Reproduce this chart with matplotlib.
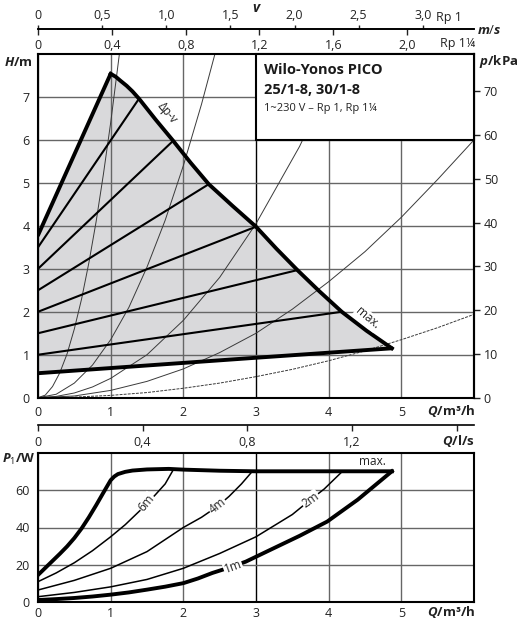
import matplotlib
matplotlib.use('Agg')
import matplotlib.pyplot as plt
from matplotlib.patches import Rectangle

FONT = 'Open Sans'
plt.rcParams['font.family'] = [FONT, 'DejaVu Sans']
plt.rcParams['mathtext.fontset'] = 'custom'
plt.rcParams['mathtext.rm'] = FONT
plt.rcParams['mathtext.it'] = FONT + ':italic:bold'
plt.rcParams['mathtext.bf'] = FONT + ':bold'

# ---------------- data: upper chart (Q in m3/h, H in m) ----------------
dpv_q = [0.0, 1.0]
dpv_h = [3.78, 7.54]
max_q = [1.0, 1.07, 1.14, 1.22, 1.30, 1.39, 1.62, 1.86, 2.10, 2.35, 2.68, 3.00, 3.28, 3.57, 3.87, 4.18, 4.52, 4.87]
max_h = [7.54, 7.47, 7.37, 7.26, 7.13, 6.96, 6.47, 5.98, 5.47, 4.97, 4.46, 3.98, 3.47, 2.97, 2.48, 2.00, 1.56, 1.15]
min_q = [0.0, 1.0, 2.0, 3.0, 4.87]
min_h = [0.57, 0.69, 0.81, 0.93, 1.15]

speed_h0 = [1.0, 1.5, 2.0, 2.5, 3.0, 3.5]
speed_q_end = [4.18, 3.57, 3.00, 2.35, 1.86, 1.39]
speed_h_end = [2.00, 2.97, 3.98, 4.97, 5.98, 6.96]

sys1_q = [0.0, 0.1, 0.2, 0.3, 0.4, 0.5, 0.6, 0.7, 0.8, 0.9, 1.0, 1.12]
sys1_h = [0.0, 0.06, 0.26, 0.58, 1.02, 1.6, 2.3, 3.14, 4.1, 5.2, 6.4, 8.0]
sys2_q = [0.0, 0.25, 0.5, 0.75, 1.0, 1.25, 1.5, 1.75, 2.0, 2.25, 2.43]
sys2_h = [0.0, 0.08, 0.34, 0.76, 1.35, 2.1, 3.04, 4.13, 5.4, 6.83, 7.97]
sys3_q = [0.0, 0.25, 0.5, 0.75, 1.0, 1.5, 2.0, 2.5, 3.0, 3.6, 4.2]
sys3_h = [0.0, 0.03, 0.11, 0.25, 0.45, 1.0, 1.8, 2.8, 4.05, 5.85, 8.0]
sys4_q = [0.0, 0.5, 1.0, 1.5, 2.0, 2.5, 3.0, 3.5, 4.0, 4.5, 5.0, 5.5, 6.0]
sys4_h = [0.0, 0.04, 0.17, 0.38, 0.67, 1.05, 1.5, 2.06, 2.7, 3.4, 4.2, 5.08, 6.0]
sys5_q = [0.0, 0.5, 1.0, 1.5, 2.0, 2.5, 3.0, 3.5, 4.0, 4.5, 5.0, 5.5, 6.0]
sys5_h = [0.0, 0.014, 0.054, 0.12, 0.22, 0.34, 0.49, 0.66, 0.86, 1.09, 1.35, 1.63, 1.94]

grid_q = [0, 1, 2, 3, 4, 5]
grid_h = [0, 1, 2, 3, 4, 5, 6, 7]
p_ticks = [0, 10, 20, 30, 40, 50, 60, 70]
rp1_v = [0, 0.5, 1.0, 1.5, 2.0, 2.5, 3.0]
rp1_lab = ['0', '0,5', '1,0', '1,5', '2,0', '2,5', '3,0']
rp114_v = [0, 0.4, 0.8, 1.2, 1.6, 2.0]
rp114_lab = ['0', '0,4', '0,8', '1,2', '1,6', '2,0']

# ---------------- data: lower chart (Q in m3/h, P1 in W) ----------------
pmax_q = [0.0, 0.1, 0.2, 0.3, 0.4, 0.5, 0.6, 0.7, 0.8, 0.9, 1.0, 1.05, 1.1, 1.2, 1.3, 1.5, 1.8, 2.0, 2.5, 3.0, 3.5, 4.0, 4.5, 4.87]
pmax_p = [14.4, 18.2, 22.0, 25.8, 29.8, 34.3, 39.5, 45.5, 52.0, 58.8, 65.5, 67.5, 68.8, 70.0, 70.7, 71.3, 71.6, 71.2, 70.6, 70.3, 70.3, 70.3, 70.3, 70.3]
p6_q = [0.0, 0.25, 0.5, 0.75, 1.0, 1.2, 1.4, 1.6, 1.75, 1.86]
p6_p = [10.8, 15.5, 21.0, 27.5, 35.0, 41.5, 49.0, 57.0, 63.5, 71.0]
p4_q = [0.0, 0.5, 1.0, 1.5, 2.0, 2.25, 2.47, 2.63, 2.8, 2.95]
p4_p = [6.3, 11.5, 18.0, 27.0, 40.0, 45.5, 51.4, 56.8, 63.5, 70.3]
p2_q = [0.0, 0.5, 1.0, 1.5, 2.0, 2.5, 3.0, 3.5, 3.75, 3.94, 4.19]
p2_p = [2.7, 5.0, 8.0, 12.0, 18.0, 26.0, 35.0, 47.0, 55.0, 60.8, 70.3]
p1_q = [0.0, 0.25, 0.5, 0.75, 1.0, 1.25, 1.5, 1.75, 2.0, 2.2, 2.4, 2.68, 2.86, 3.2, 3.6, 3.98, 4.4, 4.87]
p1_p = [0.9, 1.4, 2.0, 2.8, 3.8, 5.0, 6.5, 8.1, 10.0, 12.5, 15.5, 19.0, 21.6, 28.0, 35.5, 43.2, 55.0, 70.3]
grid_p = [0, 20, 40, 60]
ls_ticks = [0, 0.4, 0.8, 1.2, 1.6]
ls_lab = ['0', '0,4', '0,8', '1,2', '']

W, HP = 521, 629
def fx(px):
    return px / W
def fy(py):
    return 1 - py / HP

GRID = '#666666'
FILL = '#d9d9db'
TXT = '#222222'
FS = 9

fig = plt.figure(figsize=(5.21, 6.29), dpi=100)

# ================= upper chart =================
ax = fig.add_axes([fx(38), fy(397.7), fx(474) - fx(38), fy(54) - fy(397.7)])
ax.set_xlim(0, 6)
ax.set_ylim(0, 8)
for s in ax.spines.values():
    s.set_linewidth(1.5)
    s.set_color('black')
ax.set_xticks(grid_q)
ax.set_yticks(grid_h)
ax.tick_params(axis='both', length=0, labelsize=FS, colors=TXT)
ax.tick_params(axis='x', pad=6)
ax.tick_params(axis='y', pad=6)
ax.grid(True, color=GRID, lw=1.0)
ax.get_xgridlines()[3].set_color('black')

poly_q = dpv_q + max_q[1:] + min_q[::-1][1:]
poly_h = dpv_h + max_h[1:] + min_h[::-1][1:]
ax.fill(poly_q, poly_h, color=FILL, zorder=0.5, lw=0)

for sq, sh, ls in [(sys1_q, sys1_h, '-'), (sys2_q, sys2_h, '-'), (sys3_q, sys3_h, '-'),
                   (sys4_q, sys4_h, '-'), (sys5_q, sys5_h, (0, (3, 1.2)))]:
    ax.plot(sq, sh, color='#3a3a3a', lw=0.7, ls=ls, zorder=2)

for h0, qe, he in zip(speed_h0, speed_q_end, speed_h_end):
    ax.plot([0, qe], [h0, he], color='black', lw=1.5, zorder=3)

ax.plot(dpv_q, dpv_h, color='black', lw=2.8, zorder=4, solid_capstyle='round')
ax.plot(max_q, max_h, color='black', lw=2.8, zorder=4, solid_joinstyle='round')
ax.plot(min_q, min_h, color='black', lw=2.8, zorder=4, solid_capstyle='round')

ax.text(1.78, 6.64, 'Δp-v', rotation=-50, ha='center', va='center', fontsize=8.5,
        color=TXT, zorder=6)
ax.text(4.53, 1.85, 'max.', rotation=-40, ha='center', va='center', fontsize=8.5,
        color=TXT, zorder=6, bbox=dict(fc='white', ec='none', pad=0.6))

ax.add_patch(Rectangle((3, 6), 3, 2, fc='white', ec='black', lw=1.5, zorder=7, clip_on=False))
ax.text(3.11, 7.53, 'Wilo-Yonos PICO', fontsize=10.5, fontweight='bold', va='baseline',
        color='#1a1a1a', zorder=8)
ax.text(3.11, 7.06, '25/1-8, 30/1-8', fontsize=10.5, fontweight='bold', va='baseline',
        color='#1a1a1a', zorder=8)
ax.text(3.11, 6.67, '1~230 V – Rp 1, Rp 1¼', fontsize=8, va='baseline',
        color=TXT, zorder=8)

pax = ax.secondary_yaxis('right', functions=(lambda h: h * 9.81, lambda p: p / 9.81))
pax.set_yticks(p_ticks)
pax.tick_params(length=4, width=1, pad=3, labelsize=FS, colors=TXT)
pax.spines['right'].set_linewidth(1.5)

vax1 = ax.secondary_xaxis(1.0727, functions=(lambda q: q / 1.765, lambda v: v * 1.765))
vax1.set_xticks(rp1_v, labels=rp1_lab)
vax1.tick_params(direction='out', length=3, width=1, pad=2, labelsize=FS, colors=TXT)
vax1.spines['top'].set_linewidth(1.2)

vax2 = ax.secondary_xaxis(1.0727, functions=(lambda q: q / 2.54, lambda v: v * 2.54))
vax2.set_alignment('bottom')
vax2.set_xticks(rp114_v, labels=rp114_lab)
vax2.tick_params(direction='out', length=4, width=1, pad=3, labelsize=FS, colors=TXT)
vax2.spines['bottom'].set_linewidth(1.2)

fig.text(fx(257), fy(0.5), '$v$', ha='center', va='top', fontsize=10, color=TXT)
fig.text(fx(436), fy(17), 'Rp 1', ha='left', va='center', fontsize=FS, color=TXT)
fig.text(fx(475), fy(43.5), 'Rp 1¼', ha='right', va='center', fontsize=FS, color=TXT)
fig.text(fx(477), fy(30), '$m/s$', ha='left', va='center', fontsize=9.5, color=TXT)
fig.text(fx(33), fy(62), '$H$/m', ha='right', va='center', fontsize=9.5, fontweight='bold', color=TXT)
fig.text(fx(479), fy(62), '$p$/kPa', ha='left', va='center', fontsize=9.5, fontweight='bold', color=TXT)
fig.text(fx(475), fy(411), '$Q$/m³/h', ha='right', va='center', fontsize=9.5, fontweight='bold', color=TXT)

# ================= lower chart =================
bx = fig.add_axes([fx(38), fy(601.7), fx(474) - fx(38), fy(453.3) - fy(601.7)])
bx.set_xlim(0, 6)
bx.set_ylim(0, 80)
for s in bx.spines.values():
    s.set_linewidth(1.5)
    s.set_color('black')
bx.set_xticks(grid_q)
bx.set_yticks(grid_p)
bx.tick_params(axis='both', length=0, labelsize=FS, colors=TXT)
bx.tick_params(axis='x', pad=4)
bx.tick_params(axis='y', pad=6)
bx.grid(True, color=GRID, lw=1.0)
bx.get_xgridlines()[3].set_color('black')

bx.plot(p6_q, p6_p, color='black', lw=1.1, zorder=3)
bx.plot(p4_q, p4_p, color='black', lw=1.1, zorder=3)
bx.plot(p2_q, p2_p, color='black', lw=1.1, zorder=3)
bx.plot(p1_q, p1_p, color='black', lw=2.8, zorder=4)
bx.plot(pmax_q, pmax_p, color='black', lw=2.8, zorder=4, solid_joinstyle='round')

lab_kw = dict(ha='center', va='center', fontsize=8.5, color=TXT, zorder=6,
              bbox=dict(fc='white', ec='none', pad=0.5))
bx.text(1.49, 53.4, '6m', rotation=50, **lab_kw)
bx.text(2.47, 51.6, '4m', rotation=38, **lab_kw)
bx.text(3.75, 55.0, '2m', rotation=35, **lab_kw)
bx.text(2.68, 19.0, '1m', rotation=20, **lab_kw)
bx.text(4.6, 75.7, 'max.', ha='center', va='center', fontsize=8.5, color=TXT, zorder=6)

lax = bx.secondary_xaxis(1.1907, functions=(lambda q: q / 3.6, lambda l: l * 3.6))
lax.set_alignment('bottom')
lax.set_xticks(ls_ticks, labels=ls_lab)
lax.tick_params(direction='out', length=4, width=1, pad=4, labelsize=FS, colors=TXT)
lax.spines['bottom'].set_linewidth(1.2)

fig.text(fx(475), fy(441), '$Q$/l/s', ha='right', va='center', fontsize=9.5, fontweight='bold', color=TXT)
fig.text(fx(2), fy(459), '$P_{\\mathit{1}}$/W', ha='left', va='center', fontsize=9.5, fontweight='bold', color=TXT)
fig.text(fx(475), fy(612), '$Q$/m³/h', ha='right', va='center', fontsize=9.5, fontweight='bold', color=TXT)

fig.savefig('out.png', dpi=100)
